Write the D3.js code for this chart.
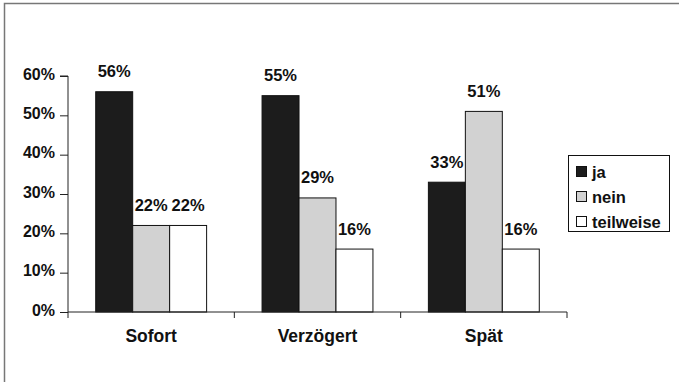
<!DOCTYPE html>
<html>
<head>
<meta charset="utf-8">
<script src="https://cdn.jsdelivr.net/npm/d3@7"></script>
<style>
  html, body { margin: 0; padding: 0; background: #fff; }
  svg { display: block; }
  text { font-family: "Liberation Sans", Arial, sans-serif; font-weight: bold; fill: #111; }
</style>
</head>
<body>
<svg id="chart" width="679" height="382"></svg>
<script>
// Categories and series
const categories = ["Sofort", "Verzögert", "Spät"];
const seriesNames = ["ja", "nein", "teilweise"];
const ja = [0.56, 0.55, 0.33];
const nein = [0.22, 0.29, 0.51];
const teilweise = [0.22, 0.16, 0.16];
const yTicks = [0, 0.1, 0.2, 0.3, 0.4, 0.5, 0.6];

const seriesValues = { ja, nein, teilweise };
const fills = { ja: "#1c1c1c", nein: "#d2d2d2", teilweise: "#ffffff" };

const svg = d3.select("#chart");
const W = 679, H = 382;

// Outer frame (right and bottom run off the page)
svg.append("path")
  .attr("d", `M4.5,${H} V3.5 H${W}`)
  .attr("fill", "none")
  .attr("stroke", "#777")
  .attr("stroke-width", 1.5);

const plot = { left: 68, right: 567, top: 76, bottom: 312 };

const y = d3.scaleLinear().domain([0, 0.6]).range([plot.bottom, plot.top]);
const x0 = d3.scaleBand().domain(categories).range([plot.left, plot.right]).padding(0);
const x1 = d3.scaleBand().domain(seriesNames).range([0, x0.bandwidth()])
  .paddingInner(0).paddingOuter(0.75);

const pct = d3.format(".0%");

// Y axis
const yAxis = d3.axisLeft(y).tickValues(yTicks).tickFormat(pct).tickSize(8).tickPadding(5);
const gy = svg.append("g").attr("transform", `translate(${plot.left},0)`).call(yAxis);
gy.select(".domain").attr("stroke", "#222").attr("d", `M-8,${plot.top}H0V${plot.bottom}`);
gy.selectAll(".tick line").attr("stroke", "#222");
gy.selectAll(".tick text")
  .attr("font-size", 16)
  .attr("font-family", "'Liberation Sans', Arial, sans-serif")
  .attr("font-weight", "bold")
  .attr("fill", "#111")
  .attr("dy", "0.2em");

// Bars
const groups = svg.append("g").selectAll("g")
  .data(categories)
  .join("g")
  .attr("transform", d => `translate(${x0(d)},0)`);

groups.selectAll("rect")
  .data((c, i) => seriesNames.map(s => ({ s, v: seriesValues[s][i] })))
  .join("rect")
  .attr("x", d => x1(d.s))
  .attr("y", d => y(d.v))
  .attr("width", x1.bandwidth())
  .attr("height", d => y(0) - y(d.v))
  .attr("fill", d => fills[d.s])
  .attr("stroke", "#111")
  .attr("stroke-width", 1);

// Value labels
groups.selectAll("text.val")
  .data((c, i) => seriesNames.map(s => ({ s, v: seriesValues[s][i] })))
  .join("text")
  .attr("class", "val")
  .attr("x", d => x1(d.s) + x1.bandwidth() / 2)
  .attr("y", d => y(d.v) - 14.5)
  .attr("text-anchor", "middle")
  .attr("font-size", 16.5)
  .text(d => pct(d.v));

// X axis line and category boundary ticks
svg.append("line")
  .attr("x1", plot.left).attr("x2", plot.right)
  .attr("y1", plot.bottom).attr("y2", plot.bottom)
  .attr("stroke", "#222");

const bounds = categories.map(c => x0(c)).concat([x0.range()[1]]);
svg.append("g").selectAll("line")
  .data(bounds)
  .join("line")
  .attr("x1", d => d).attr("x2", d => d)
  .attr("y1", plot.bottom).attr("y2", plot.bottom + 6)
  .attr("stroke", "#222");

svg.append("g").selectAll("text")
  .data(categories)
  .join("text")
  .attr("x", d => x0(d) + x0.bandwidth() / 2)
  .attr("y", 342)
  .attr("text-anchor", "middle")
  .attr("font-size", 17.5)
  .text(d => d);

// Legend
const legend = svg.append("g").attr("transform", "translate(568,155)");
legend.append("rect")
  .attr("x", 0.5).attr("y", 0.5)
  .attr("width", 101).attr("height", 76)
  .attr("fill", "#fff")
  .attr("stroke", "#111");

const items = legend.selectAll("g.item")
  .data(seriesNames)
  .join("g")
  .attr("class", "item")
  .attr("transform", (d, i) => `translate(0,${17 + i * 25})`);

items.append("rect")
  .attr("x", 8.5).attr("y", -5.5)
  .attr("width", 10).attr("height", 10)
  .attr("fill", d => fills[d])
  .attr("stroke", "#111");

items.append("text")
  .attr("x", 24)
  .attr("y", 6)
  .attr("font-size", 16.5)
  .text(d => d);
</script>
</body>
</html>
